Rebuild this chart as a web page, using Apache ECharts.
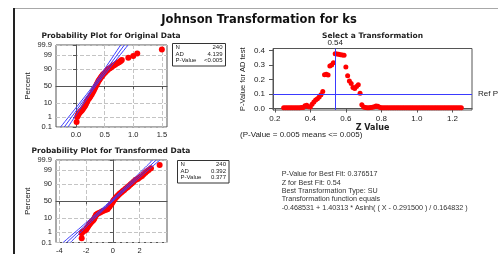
<!DOCTYPE html>
<html>
<head>
<meta charset="utf-8">
<script src="https://cdn.jsdelivr.net/npm/echarts@6/dist/echarts.min.js"></script>
<style>
  html, body { margin: 0; padding: 0; background: #fff; }
  #chart { width: 498px; height: 254px; }
</style>
</head>
<body>
<div id="chart"></div>
<script>
// probability axis ticks (percent)
var pctTicks = [0.1, 1, 10, 50, 90, 99, 99.9];
var pctLabels = ['0.1', '1', '10', '50', '90', '99', '99.9'];

// original data, [value, percent]
var origPoints = [[0.01,0.34],[0.02,0.96],[0.03,1.3],[0.04,1.6],[0.055,2.0],[0.07,2.4],[0.085,2.8],[0.1,3.2],[0.115,4.0],[0.13,4.9],
  [0.145,5.9],[0.16,7.0],[0.173,8.8],[0.187,10.9],[0.2,13.5],[0.217,16.2],[0.232,18.5],[0.246,20.8],[0.26,23.8],[0.275,26.8],
  [0.29,31],[0.305,35.6],[0.32,40.4],[0.334,45.2],[0.348,50],[0.363,54.9],[0.378,59.6],[0.392,64.4],[0.407,68],[0.422,71.5],
  [0.437,74.3],[0.451,77],[0.466,79.5],[0.48,81.9],[0.505,84.3],[0.527,86.6],[0.548,88.3],[0.568,90],[0.59,91],[0.609,91.9],
  [0.632,92.9],[0.656,93.9],[0.68,94.6],[0.703,95.3],[0.727,95.9],[0.75,96.4],[0.77,96.8],[0.785,97.1],[0.8,97.5],
  [0.914,98.3],[1.0,98.8],[1.07,99.3],[1.5,99.7]];
// fitted line and confidence curves, [value, percent]
var origFit = [[-0.205,0.1],[0.845,99.9]];
var origLower = [[-0.27,0.1],[0.065,10],[0.295,50],[0.5,90],[0.78,99.9]];
var origUpper = [[-0.14,0.1],[0.14,10],[0.345,50],[0.575,90],[0.91,99.9]];

// transformed data, [value, percent]
var transPoints = [[-2.33,0.28],[-2.33,0.84],[-2.25,1.1],[-2.12,1.35],[-2.0,1.6],[-1.95,2.1],[-1.9,2.6],[-1.83,3.2],[-1.76,4.0],[-1.7,4.7],
  [-1.65,5.5],[-1.58,6.3],[-1.52,7.1],[-1.45,8.1],[-1.4,9.5],[-1.35,11.2],[-1.3,13.2],[-1.25,15.4],[-1.17,16.8],[-1.08,18.4],
  [-0.95,20.2],[-0.82,21.9],[-0.7,23.6],[-0.55,25.5],[-0.4,27.4],[-0.32,31],[-0.24,35],[-0.15,39.4],[-0.08,43.5],[-0.01,47.8],
  [0.05,52],[0.13,56],[0.22,60],[0.3,63.7],[0.38,66.8],[0.47,69.8],[0.55,72.6],[0.65,75.2],[0.75,77.8],[0.85,80.2],
  [0.97,82.8],[1.1,85.3],[1.2,87.4],[1.32,89.4],[1.43,91.1],[1.55,92.9],[1.68,94.5],[1.8,95.1],[1.93,95.7],[2.05,96.5],
  [2.18,97.1],[2.3,97.8],[2.43,98.4],[2.55,98.75],[2.68,99.04],[2.85,99.32],[3.5,99.67]];
var transFit = [[-3.45,0.1],[3.25,99.9]];
var transLower = [[-3.72,0.1],[-1.63,10],[-0.2,50],[1.15,90],[2.98,99.9]];
var transUpper = [[-3.18,0.1],[-1.35,10],[0.0,50],[1.43,90],[3.52,99.9]];

// Select a Transformation: Z value vs AD p-value
var zValues = [0.25,0.26,0.27,0.28,0.29,0.30,0.31,0.32,0.33,0.34,0.35,0.36,0.37,0.38,0.39,0.40,0.41,0.42,0.43,0.44,
  0.45,0.46,0.47,0.48,0.49,0.50,0.51,0.52,0.53,0.54,0.55,0.56,0.57,0.58,0.59,0.60,0.61,0.62,0.63,0.64,
  0.65,0.66,0.67,0.68,0.69,0.70,0.71,0.72,0.73,0.74,0.75,0.76,0.77,0.78,0.79,0.80,0.81,0.82,0.83,0.84,
  0.85,0.86,0.87,0.88,0.89,0.90,0.91,0.92,0.93,0.94,0.95,0.96,0.97,0.98,0.99,1.00,1.01,1.02,1.03,1.04,
  1.05,1.06,1.07,1.08,1.09,1.10,1.11,1.12,1.13,1.14,1.15,1.16,1.17,1.18,1.19,1.20,1.21,1.22,1.23,1.24,1.25];
var pValues = [0.006,0.006,0.006,0.006,0.006,0.006,0.006,0.006,0.006,0.006,0.007,0.008,0.02,0.022,0.012,0.01,0.03,0.045,0.058,0.068,
  0.08,0.095,0.117,0.232,0.236,0.23,0.292,0.3,0.315,0.377,0.376,0.373,0.37,0.368,0.366,0.286,0.226,0.19,0.172,0.145,
  0.138,0.152,0.163,0.105,0.026,0.01,0.007,0.006,0.006,0.007,0.009,0.013,0.017,0.015,0.009,0.006,0.005,0.005,0.005,0.005,
  0.005,0.005,0.005,0.005,0.005,0.005,0.005,0.005,0.005,0.005,0.005,0.005,0.005,0.005,0.005,0.005,0.005,0.005,0.005,0.005,
  0.005,0.005,0.005,0.005,0.005,0.005,0.005,0.005,0.005,0.005,0.005,0.005,0.005,0.005,0.005,0.005,0.005,0.005,0.005,0.005,0.005];
var bestZ = 0.54;
var refP = 0.1;

var statNames = ['N', 'AD', 'P-Value'];
var origStats = ['240', '4.139', '<0.005'];
var transStats = ['240', '0.392', '0.377'];
var fitText = [
  'P-Value for Best Fit: 0.376517',
  'Z for Best Fit: 0.54',
  'Best Transformation Type: SU',
  'Transformation function equals',
  '-0.468531 + 1.40313 * Asinh( ( X - 0.291500 ) / 0.164832 )'
];

// inverse normal cdf (Acklam), used for the probability scale
function probit(p) {
  var a = [-3.969683028665376e+01, 2.209460984245205e+02, -2.759285104469687e+02, 1.383577518672690e+02, -3.066479806614716e+01, 2.506628277459239e+00];
  var b = [-5.447609879822406e+01, 1.615858368580409e+02, -1.556989798598866e+02, 6.680131188771972e+01, -1.328068155288572e+01];
  var c = [-7.784894002430293e-03, -3.223964580411365e-01, -2.400758277161838e+00, -2.549671743169038e+00, 4.374664141464968e+00, 2.938163982698783e+00];
  var d = [7.784695709041462e-03, 3.224671290700398e-01, 2.445134137142996e+00, 3.754408661907416e+00];
  var pl = 0.02425, q, r;
  if (p < pl) {
    q = Math.sqrt(-2 * Math.log(p));
    return (((((c[0]*q+c[1])*q+c[2])*q+c[3])*q+c[4])*q+c[5]) / ((((d[0]*q+d[1])*q+d[2])*q+d[3])*q+1);
  }
  if (p > 1 - pl) {
    q = Math.sqrt(-2 * Math.log(1 - p));
    return -(((((c[0]*q+c[1])*q+c[2])*q+c[3])*q+c[4])*q+c[5]) / ((((d[0]*q+d[1])*q+d[2])*q+d[3])*q+1);
  }
  q = p - 0.5; r = q * q;
  return (((((a[0]*r+a[1])*r+a[2])*r+a[3])*r+a[4])*r+a[5])*q / (((((b[0]*r+b[1])*r+b[2])*r+b[3])*r+b[4])*r+1);
}
function toProb(pts) {
  return pts.map(function (p) { return [p[0], probit(p[1] / 100)]; });
}

var zTicks = pctTicks.map(function (p) { return probit(p / 100); });
var zMin = zTicks[0], zMax = zTicks[zTicks.length - 1];

var RED = '#ff0000';
var BLUE = '#3a3aff';
var labelFont = { fontFamily: 'Liberation Sans', fontSize: 7.5, color: '#222' };
var gridLine = { show: true, lineStyle: { color: '#c4c4c4', type: [4, 2], width: 1 } };
var axLine = { show: true, lineStyle: { color: '#555', width: 1 } };

function pctFormatter(v) {
  var best = 0;
  for (var i = 1; i < zTicks.length; i++) {
    if (Math.abs(zTicks[i] - v) < Math.abs(zTicks[best] - v)) best = i;
  }
  return pctLabels[best];
}

function probYAxis(gi) {
  return {
    type: 'value', gridIndex: gi, min: zMin, max: zMax,
    name: 'Percent', nameLocation: 'middle', nameGap: 24, nameRotate: 90,
    nameTextStyle: { fontFamily: 'Liberation Sans', fontSize: 8, color: '#222' },
    axisLine: axLine,
    axisTick: { show: true, length: 3, customValues: zTicks, lineStyle: { color: '#555' } },
    axisLabel: Object.assign({ customValues: zTicks, margin: 4, formatter: pctFormatter }, labelFont),
    splitLine: gridLine
  };
}

function statBox(x, y, w, vals) {
  var kids = [{ type: 'rect', shape: { x: 0, y: 0, width: w, height: 22.5 },
    style: { fill: '#fff', stroke: '#333', lineWidth: 1 } }];
  statNames.forEach(function (n, i) {
    kids.push({ type: 'text', x: 3, y: 4 + i * 6.6,
      style: { text: n, font: '6px "Liberation Sans"', fill: '#222', verticalAlign: 'middle' } });
    kids.push({ type: 'text', x: w - 3, y: 4 + i * 6.6,
      style: { text: vals[i], font: '6px "Liberation Sans"', fill: '#222', align: 'right', verticalAlign: 'middle' } });
  });
  return { type: 'group', x: x, y: y, children: kids };
}

var subTitle = { fontFamily: 'DejaVu Sans', fontWeight: 'bold', fontSize: 7.5, color: '#222' };

var graphics = [
  { type: 'line', shape: { x1: 14, y1: 8.5, x2: 498, y2: 8.5 }, style: { stroke: '#a8a8a8', lineWidth: 1 } },
  { type: 'line', shape: { x1: 14, y1: 8, x2: 14, y2: 254 }, style: { stroke: '#222', lineWidth: 2 } },
  statBox(172.5, 43.5, 53, origStats),
  statBox(177.5, 160.5, 51.5, transStats),
  { type: 'text', x: 240, y: 135, style: { text: '(P-Value = 0.005 means <= 0.005)',
      font: '8px "Liberation Sans"', fill: '#222', verticalAlign: 'middle' } }
];
fitText.forEach(function (t, i) {
  graphics.push({ type: 'text', x: 281.7, y: 174.3 + i * 8.35,
    style: { text: t, font: '7.2px "Liberation Sans"', fill: '#333', verticalAlign: 'middle' } });
});

var chart = echarts.init(document.getElementById('chart'));
chart.setOption({
  animation: false,
  backgroundColor: '#fff',
  title: [
    { text: 'Johnson Transformation for ks', left: 259, top: 14.5, textAlign: 'center', padding: 0,
      textStyle: { fontFamily: 'DejaVu Sans', fontWeight: 'bold', fontSize: 11.5, color: '#111' } },
    { text: 'Probability Plot for Original Data', left: 111, top: 32, textAlign: 'center', padding: 0, textStyle: subTitle },
    { text: 'Probability Plot for Transformed Data', left: 111, top: 147, textAlign: 'center', padding: 0, textStyle: subTitle },
    { text: 'Select a Transformation', left: 372.5, top: 32, textAlign: 'center', padding: 0, textStyle: subTitle }
  ],
  grid: [
    { left: 56, top: 45, width: 111, height: 82, show: true, borderColor: '#555', borderWidth: 1, outerBoundsMode: 'none' },
    { left: 56, top: 160, width: 111, height: 82.5, show: true, borderColor: '#555', borderWidth: 1, outerBoundsMode: 'none' },
    { left: 273, top: 48.5, width: 199, height: 61.5, show: true, borderColor: '#555', borderWidth: 1, outerBoundsMode: 'none' }
  ],
  xAxis: [
    { type: 'value', gridIndex: 0, min: -0.35, max: 1.59, axisLine: axLine,
      axisTick: { show: true, length: 3, customValues: [0, 0.5, 1, 1.5], lineStyle: { color: '#555' } },
      axisLabel: Object.assign({ customValues: [0, 0.5, 1, 1.5], margin: 4,
        formatter: function (v) { return v.toFixed(1); } }, labelFont),
      splitLine: gridLine },
    { type: 'value', gridIndex: 1, min: -4.25, max: 4.05, axisLine: axLine,
      axisTick: { show: true, length: 3, customValues: [-4, -2, 0, 2], lineStyle: { color: '#555' } },
      axisLabel: Object.assign({ customValues: [-4, -2, 0, 2], margin: 4 }, labelFont),
      splitLine: gridLine },
    { type: 'value', gridIndex: 2, min: 0.19, max: 1.31, axisLine: axLine,
      name: 'Z Value', nameLocation: 'middle', nameGap: 14,
      nameTextStyle: { fontFamily: 'DejaVu Sans', fontWeight: 'bold', fontSize: 8, color: '#222' },
      axisTick: { show: true, length: 4, customValues: [0.2, 0.4, 0.6, 0.8, 1.0, 1.2], lineStyle: { color: '#555' } },
      axisLabel: { customValues: [0.2, 0.4, 0.6, 0.8, 1.0, 1.2], margin: 5, fontFamily: 'Liberation Sans', fontSize: 8, color: '#222',
        formatter: function (v) { return v.toFixed(1); } },
      splitLine: { show: false } }
  ],
  yAxis: [
    probYAxis(0),
    probYAxis(1),
    { type: 'value', gridIndex: 2, min: -0.01, max: 0.413, axisLine: axLine,
      name: 'P-Value for AD test', nameLocation: 'middle', nameGap: 26, nameRotate: 90,
      nameTextStyle: { fontFamily: 'Liberation Sans', fontSize: 7.5, color: '#222' },
      axisTick: { show: true, length: 4, customValues: [0, 0.1, 0.2, 0.3, 0.4], lineStyle: { color: '#555' } },
      axisLabel: { customValues: [0, 0.1, 0.2, 0.3, 0.4], margin: 8, fontFamily: 'Liberation Sans', fontSize: 8, color: '#222',
        formatter: function (v) { return v.toFixed(1); } },
      splitLine: { show: false } }
  ],
  series: [
    { type: 'line', xAxisIndex: 0, yAxisIndex: 0, data: toProb(origFit), showSymbol: false, lineStyle: { color: BLUE, width: 1 } },
    { type: 'line', xAxisIndex: 0, yAxisIndex: 0, data: toProb(origLower), smooth: 0.3, showSymbol: false, lineStyle: { color: BLUE, width: 1 } },
    { type: 'line', xAxisIndex: 0, yAxisIndex: 0, data: toProb(origUpper), smooth: 0.3, showSymbol: false, lineStyle: { color: BLUE, width: 1 } },
    { type: 'scatter', xAxisIndex: 0, yAxisIndex: 0, data: toProb(origPoints), symbolSize: 6, itemStyle: { color: RED, opacity: 1 } },
    { type: 'line', xAxisIndex: 1, yAxisIndex: 1, data: toProb(transFit), showSymbol: false, lineStyle: { color: BLUE, width: 1 } },
    { type: 'line', xAxisIndex: 1, yAxisIndex: 1, data: toProb(transLower), smooth: 0.3, showSymbol: false, lineStyle: { color: BLUE, width: 1 } },
    { type: 'line', xAxisIndex: 1, yAxisIndex: 1, data: toProb(transUpper), smooth: 0.3, showSymbol: false, lineStyle: { color: BLUE, width: 1 } },
    { type: 'scatter', xAxisIndex: 1, yAxisIndex: 1, data: toProb(transPoints), symbolSize: 6, itemStyle: { color: RED, opacity: 1 } },
    { type: 'scatter', xAxisIndex: 2, yAxisIndex: 2, symbolSize: 5, itemStyle: { color: RED, opacity: 1 },
      data: zValues.map(function (z, i) { return [z, pValues[i]]; }),
      markLine: { silent: true, symbol: 'none', animation: false,
        lineStyle: { color: BLUE, width: 1, type: 'solid' },
        label: { fontFamily: 'Liberation Sans', fontSize: 8, color: '#222' },
        data: [
          { xAxis: bestZ, label: { position: 'end', distance: 2, formatter: String(bestZ) } },
          { yAxis: refP, label: { position: 'end', distance: 6, formatter: 'Ref P' } }
        ] } }
  ],
  graphic: graphics
});
</script>
</body>
</html>
